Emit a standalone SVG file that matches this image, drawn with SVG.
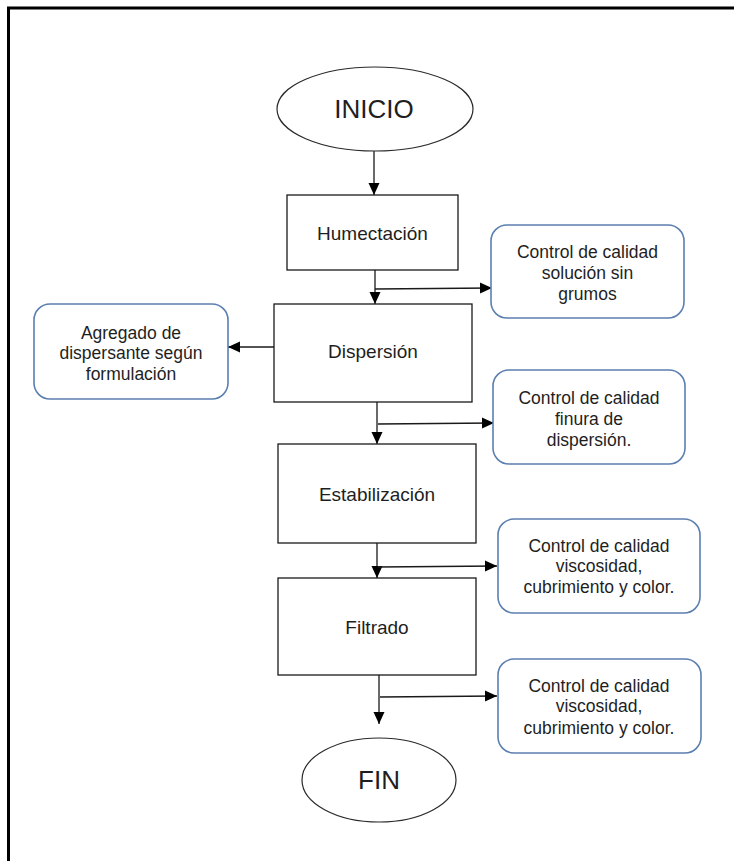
<svg xmlns="http://www.w3.org/2000/svg" width="734" height="861" viewBox="0 0 734 861">
  <style>
    text { font-family: "Liberation Sans", Arial, sans-serif; fill: #1e1e1e; text-anchor: middle; }
    .big { font-size: 26px; }
    .step { font-size: 19px; }
    .note { font-size: 17.5px; }
    .term { fill: #ffffff; stroke: #2a2a2a; stroke-width: 1.2; }
    .proc { fill: #ffffff; stroke: #1a1a1a; stroke-width: 1.3; }
    .side { fill: #ffffff; stroke: #5b7fae; stroke-width: 1.6; }
    .edge { fill: none; stroke: #1a1a1a; stroke-width: 1.3; }
    .frame { fill: none; stroke: #000000; stroke-width: 3; }
  </style>
  <defs>
    <marker id="arrow" markerWidth="12" markerHeight="12" refX="12" refY="6" orient="auto" markerUnits="userSpaceOnUse">
      <path d="M0,0.5 L12,6 L0,11.5 Z" fill="#000000"/>
    </marker>
  </defs>

  <rect x="0" y="0" width="734" height="861" fill="#ffffff"/>

  <!-- page frame: top and left edges -->
  <path class="frame" d="M8.5,861 L8.5,8 L734,8"/>

  <!-- connectors -->
  <g id="connectors">
    <line class="edge" x1="374" y1="151" x2="374" y2="195" marker-end="url(#arrow)"/>
    <line class="edge" x1="375" y1="264" x2="375" y2="304" marker-end="url(#arrow)"/>
    <line class="edge" x1="375" y1="289" x2="492" y2="288" marker-end="url(#arrow)"/>
    <line class="edge" x1="274" y1="347" x2="228" y2="347" marker-end="url(#arrow)"/>
    <line class="edge" x1="377" y1="395" x2="377" y2="444" marker-end="url(#arrow)"/>
    <line class="edge" x1="378" y1="424" x2="494" y2="423" marker-end="url(#arrow)"/>
    <line class="edge" x1="377" y1="535" x2="377" y2="578" marker-end="url(#arrow)"/>
    <line class="edge" x1="378" y1="567" x2="497" y2="566" marker-end="url(#arrow)"/>
    <line class="edge" x1="379" y1="675" x2="379" y2="724" marker-end="url(#arrow)"/>
    <line class="edge" x1="380" y1="697" x2="497" y2="696" marker-end="url(#arrow)"/>
  </g>

  <g id="inicio">
    <ellipse class="term" cx="375" cy="109" rx="98" ry="42"/>
    <text class="big" x="374" y="118">INICIO</text>
  </g>

  <g id="humectacion">
    <rect class="proc" x="287" y="195" width="171" height="75"/>
    <text class="step" x="372.5" y="240">Humectación</text>
  </g>

  <g id="control-grumos">
    <rect class="side" x="491" y="225" width="193" height="93" rx="16"/>
    <text class="note" x="587.5" y="258">Control de calidad</text>
    <text class="note" x="587.5" y="279">solución sin</text>
    <text class="note" x="587.5" y="300">grumos</text>
  </g>

  <g id="dispersion">
    <rect class="proc" x="274" y="304" width="198" height="98"/>
    <text class="step" x="373" y="358">Dispersión</text>
  </g>

  <g id="agregado">
    <rect class="side" x="34" y="304" width="194" height="95" rx="16"/>
    <text class="note" x="131" y="339">Agregado de</text>
    <text class="note" x="131" y="359">dispersante según</text>
    <text class="note" x="131" y="380">formulación</text>
  </g>

  <g id="control-finura">
    <rect class="side" x="493" y="370" width="192" height="94" rx="16"/>
    <text class="note" x="589" y="404">Control de calidad</text>
    <text class="note" x="589" y="425">finura de</text>
    <text class="note" x="589" y="446">dispersión.</text>
  </g>

  <g id="estabilizacion">
    <rect class="proc" x="278" y="444" width="198" height="99"/>
    <text class="step" x="377" y="501">Estabilización</text>
  </g>

  <g id="control-estabilizacion">
    <rect class="side" x="498" y="519" width="202" height="94" rx="16"/>
    <text class="note" x="599" y="552">Control de calidad</text>
    <text class="note" x="599" y="572">viscosidad,</text>
    <text class="note" x="599" y="593">cubrimiento y color.</text>
  </g>

  <g id="filtrado">
    <rect class="proc" x="278" y="578" width="198" height="97"/>
    <text class="step" x="377" y="634">Filtrado</text>
  </g>

  <g id="control-filtrado">
    <rect class="side" x="498" y="659" width="203" height="94" rx="16"/>
    <text class="note" x="599" y="692">Control de calidad</text>
    <text class="note" x="599" y="712">viscosidad,</text>
    <text class="note" x="599" y="734">cubrimiento y color.</text>
  </g>

  <g id="fin">
    <ellipse class="term" cx="379" cy="780" rx="77" ry="42"/>
    <text class="big" x="379" y="789">FIN</text>
  </g>
</svg>
